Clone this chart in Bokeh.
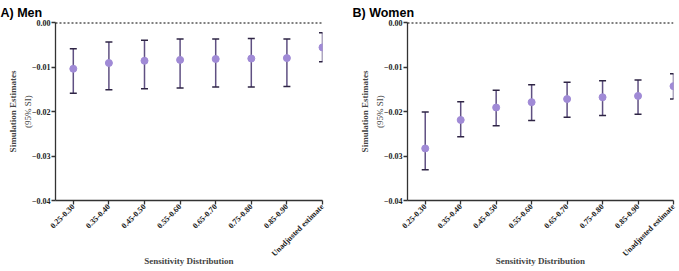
import math
from bokeh.plotting import figure
from bokeh.layouts import row
from bokeh.models import (Range1d, FixedTicker, LinearAxis, Span, Whisker,
                          ColumnDataSource, CustomJSTickFormatter, TeeHead)
from bokeh.embed import file_html
from bokeh.resources import INLINE

categories = ["0.25-0.30", "0.35-0.40", "0.45-0.50", "0.55-0.60",
              "0.65-0.70", "0.75-0.80", "0.85-0.90", "Unadjusted estimate"]
men_est = [-0.0104, -0.0091, -0.0086, -0.0084, -0.0082, -0.0081, -0.0080, -0.0056]
men_upper = [-0.0059, -0.0044, -0.0040, -0.0037, -0.0037, -0.0036, -0.0037, -0.0023]
men_lower = [-0.0159, -0.0151, -0.0149, -0.0147, -0.0145, -0.0145, -0.0144, -0.0088]
women_est = [-0.0283, -0.0219, -0.0191, -0.0179, -0.0172, -0.0168, -0.0165, -0.0143]
women_upper = [-0.0201, -0.0178, -0.0152, -0.0140, -0.0134, -0.0131, -0.0129, -0.0115]
women_lower = [-0.0331, -0.0257, -0.0232, -0.0220, -0.0213, -0.0209, -0.0206, -0.0172]
y_ticks = [-0.04, -0.03, -0.02, -0.01, 0.0]

SERIF = "Liberation Serif"
SANS = "Liberation Sans"
POINT = "#a08ad6"
STEM = "#5f5082"
CAP = "#2e2444"
AXIS = "#333333"


def make_panel(title, est, lower, upper, width, left, right):
    p = figure(width=width, height=271, x_range=Range1d(-0.5, 7),
               y_range=Range1d(-0.04, 0.0), output_backend="svg",
               toolbar_location=None, title=title,
               min_border_left=left, min_border_right=right,
               min_border_top=22, min_border_bottom=71)
    p.outline_line_color = None
    p.xgrid.visible = False
    p.ygrid.visible = False
    p.background_fill_color = "white"
    p.border_fill_color = "white"

    p.title.text_font = SANS
    p.title.text_font_size = "12.5px"
    p.title.text_font_style = "bold"
    p.title.text_color = "black"
    p.title.align = "left"
    p.title.vertical_align = "top"
    p.title.offset = -55
    p.title.standoff = 2

    # x axis
    xa = p.xaxis[0]
    xa.ticker = FixedTicker(ticks=list(range(len(categories))))
    xa.major_label_overrides = {i: c for i, c in enumerate(categories)}
    xa.major_label_orientation = math.pi / 4
    xa.major_label_text_font = SERIF
    xa.major_label_text_font_style = "bold"
    xa.major_label_text_font_size = "8px"
    xa.major_label_text_color = "#222222"
    xa.major_label_standoff = 1
    xa.axis_label = "Sensitivity Distribution"
    xa.axis_label_text_font = SERIF
    xa.axis_label_text_font_style = "bold"
    xa.axis_label_text_font_size = "9px"
    xa.axis_label_standoff = -8
    xa.axis_line_color = AXIS
    xa.axis_line_width = 1.3
    xa.major_tick_line_color = AXIS
    xa.major_tick_line_width = 1.3
    xa.major_tick_out = 4
    xa.major_tick_in = 0
    xa.minor_tick_line_color = None

    # y axis
    ya = p.yaxis[0]
    ya.ticker = FixedTicker(ticks=y_ticks)
    ya.formatter = CustomJSTickFormatter(code="""
        return tick == 0 ? "0.00" : "\\u2212" + Math.abs(tick).toFixed(2);
    """)
    ya.major_label_text_font = SERIF
    ya.major_label_text_font_style = "bold"
    ya.major_label_text_font_size = "8px"
    ya.major_label_text_color = "#222222"
    ya.major_label_standoff = 1
    ya.axis_label = "(95% SI)"
    ya.axis_label_text_font = SERIF
    ya.axis_label_text_font_style = "normal"
    ya.axis_label_text_font_size = "9px"
    ya.axis_label_standoff = -4
    ya.axis_line_color = AXIS
    ya.axis_line_width = 1.3
    ya.major_tick_line_color = AXIS
    ya.major_tick_line_width = 1.3
    ya.major_tick_out = 4
    ya.major_tick_in = 0
    ya.minor_tick_line_color = None

    extra = LinearAxis(axis_label="Simulation Estimates",
                       ticker=FixedTicker(ticks=[]),
                       axis_line_color=None, major_tick_line_color=None,
                       minor_tick_line_color=None,
                       major_label_text_font_size="0px",
                       axis_label_standoff=2)
    extra.axis_label_text_font = SERIF
    extra.axis_label_text_font_style = "bold"
    extra.axis_label_text_font_size = "9px"
    p.add_layout(extra, "left")

    p.add_layout(Span(location=0, dimension="width", line_color="black",
                      line_width=2, line_dash="2 2"))

    src = ColumnDataSource(dict(x=list(range(len(categories))), est=est,
                                lower=lower, upper=upper))
    w = Whisker(source=src, base="x", upper="upper", lower="lower",
                dimension="height", line_color=STEM, line_width=1.5,
                upper_head=TeeHead(size=7, line_color=CAP, line_width=1.5),
                lower_head=TeeHead(size=7, line_color=CAP, line_width=1.5))
    w.level = "underlay"
    p.add_layout(w)
    p.scatter(x="x", y="est", source=src, size=7, fill_color=POINT,
              line_color=POINT)
    return p


p1 = make_panel("A) Men", men_est, men_lower, men_upper, 340, 55, 18)
p2 = make_panel("B) Women", women_est, women_lower, women_upper, 339, 67, 6)
layout = row(p1, p2, spacing=0)

open("out.html", "w").write(file_html(layout, INLINE))
